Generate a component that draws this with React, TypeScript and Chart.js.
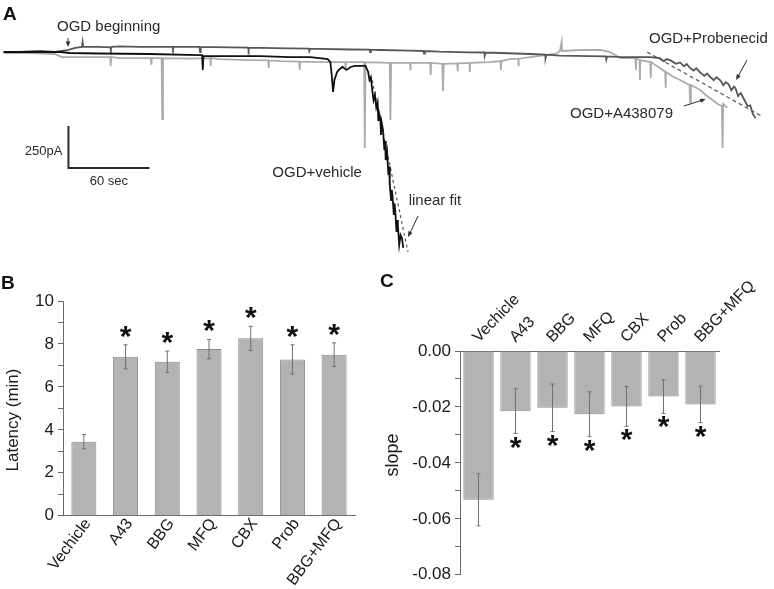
import React, { useEffect, useRef } from 'react';
import { Chart, registerables } from 'chart.js';

Chart.register(...registerables);

const FONT = '"Liberation Sans", Arial, Helvetica, sans-serif';

// ---------- Panel A : whole-cell current traces [time (s), current (pA)] ----------
const vehicleTrace: [number, number][] = [
  [-1, 0], [18, 0], [41, 0], [48, -6], [70, -9], [107, -12], [144, -18], [146, -18], [146.5, -107], [147, -24],
  [167, -24], [189, -24], [211, -30], [226, -30], [233, -36], [239, -42], [241, -60], [242, -137], [243, -238],
  [244, -167], [246, -119], [248, -101], [250, -89], [253, -107], [256, -89], [259, -83], [263, -83], [267, -83],
  [269, -119], [270, -167], [271, -150], [272, -226], [273, -286], [274, -256], [275, -330], [276, -300],
  [276.5, -405], [277, -360], [278, -393], [278.5, -494], [279, -420], [280, -464], [281, -583], [281.5, -530],
  [282, -643], [283, -595], [284, -732], [284.5, -680], [285, -791], [286, -881], [286.5, -820], [287, -851],
  [288, -970], [288.5, -900], [289, -940], [290, -1071], [290.5, -1000], [291, -1029], [292, -1148], [293, -1090],
  [294, -1107], [295, -1166],
];

const a438079Trace: [number, number][] = [
  [-1, -6], [18, -6], [37, -12], [42, -30], [56, -30], [70, -30], [78, -30], [78.3, -83], [78.6, -30], [85, -36],
  [100, -36], [108, -36], [108.3, -70], [108.6, -36], [116, -36], [116.5, -399], [117, -36], [137, -39], [152, -36],
  [152.3, -83], [152.6, -36], [159, -42], [181, -48], [195, -50], [195.3, -95], [195.6, -50], [204, -54], [218, -57],
  [218.3, -107], [218.6, -57], [241, -60], [252, -60], [252.3, -100], [252.6, -60], [266, -60], [266.5, -571],
  [267, -60], [285, -65], [285.5, -405], [286, -65], [300, -65], [300.3, -110], [300.6, -65], [307, -65], [315, -65],
  [315.3, -137], [315.6, -65], [324, -71], [324.4, -232], [325, -71], [335, -68], [335.3, -115], [335.6, -68],
  [344, -65], [344.3, -119], [344.6, -65], [359, -60], [367, -54], [367.3, -107], [367.6, -54], [374, -42],
  [380, -40], [380.3, -85], [380.6, -40], [389, -30], [400, -18], [408, -10], [411, 6], [412.3, 60], [412.6, 6],
  [426, 12], [441, 12], [448, 0], [456, -36], [463, -36], [467, -36], [467.3, -107], [467.6, -36], [470, -48],
  [470.3, -167], [470.6, -48], [478, -60], [478.3, -155], [478.6, -60], [485, -95], [489, -119], [489.3, -214],
  [489.6, -119], [494, -143], [500, -167], [507, -196], [507.5, -298], [508, -196], [515, -226], [519, -256],
  [524, -286], [528, -309], [531, -321], [531.5, -571], [532, -309], [535, -333],
];

const probenecidTrace: [number, number][] = [
  [-1, 0], [11, 0], [26, 6], [37, 0], [47, 12], [52, 24], [57, 30], [57.5, 60], [58, 30], [70, 30], [78, 28],
  [78.4, 16], [79, 30], [85, 33], [100, 30], [115, 30], [124, 30], [124.4, 18], [125, 30], [144, 30], [144.5, 0],
  [145, 30], [167, 27], [180, 26], [180.4, 12], [181, 26], [189, 24], [211, 21], [225, 20], [225.4, 6], [226, 20],
  [233, 18], [256, 15], [270, 14], [270.4, 0], [271, 14], [278, 12], [300, 8], [310, 6], [310.4, -10], [311, 6],
  [322, 2], [344, -2], [355, -3], [355.4, -20], [356, -3], [367, -6], [389, -12], [400, -16], [400.4, -36],
  [401, -16], [411, -22], [433, -24], [445, -26], [445.4, -45], [446, -26], [456, -30], [478, -30], [485, -36],
  [488, -55], [490, -42], [493, -50], [497, -70], [500, -62], [503, -85], [505, -72], [507, -92], [510, -110],
  [512, -96], [515, -122], [518, -142], [520, -128], [522, -146], [525, -168], [527, -150], [530, -170],
  [532, -198], [534, -180], [536, -192], [538, -228], [540, -206], [541, -214], [543, -262], [545, -244],
  [548, -290], [550, -322], [552, -318], [554, -370], [556, -395],
];

const vehicleFit: [number, number][] = [[271.9, -167], [298.5, -1190]];
const probenecidFit: [number, number][] = [[475.6, 0], [561.5, -387]];

const scaleBarOrigin: [number, number] = [47, -690];
const scaleBarTime = 60; // s
const scaleBarCurrent = 250; // pA

// ---------- Panels B and C ----------
const categories = ['Vechicle', 'A43', 'BBG', 'MFQ', 'CBX', 'Prob', 'BBG+MFQ'];
const latency = [3.45, 7.4, 7.17, 7.76, 8.26, 7.28, 7.5];
const latencyErr = [0.33, 0.56, 0.5, 0.45, 0.56, 0.68, 0.55];
const latencySig = [false, true, true, true, true, true, true];
const slope = [-0.0532, -0.0215, -0.0203, -0.0226, -0.0198, -0.0163, -0.0191];
const slopeErr = [0.0093, 0.008, 0.0085, 0.008, 0.0071, 0.006, 0.0065];
const slopeSig = [false, true, true, true, true, true, true];

const latencyTicks = [0, 2, 4, 6, 8, 10];
const slopeTicks = [0, -0.02, -0.04, -0.06, -0.08];

// ---------- annotation layout for panel A (in data units) ----------
const traceLabels: { text: string; at: [number, number] }[] = [
  { text: 'OGD beginning', at: [38.5, 125] },
  { text: 'OGD+vehicle', at: [198, -744] },
  { text: 'linear fit', at: [299, -910] },
  { text: 'OGD+Probenecid', at: [477, 54] },
  { text: 'OGD+A438079', at: [418.5, -393] },
];
const traceArrows: { from: [number, number]; to: [number, number] }[] = [
  { from: [46.7, 83], to: [46.7, 30] },
  { from: [306, -976], to: [298.5, -1101] },
  { from: [549.6, -48], to: [541.5, -167] },
  { from: [503, -321], to: [519, -280] },
];

function drawArrow(ctx: CanvasRenderingContext2D, x1: number, y1: number, x2: number, y2: number) {
  const ang = Math.atan2(y2 - y1, x2 - x1);
  const head = 6;
  ctx.beginPath();
  ctx.moveTo(x1, y1);
  ctx.lineTo(x2 - Math.cos(ang) * head * 0.7, y2 - Math.sin(ang) * head * 0.7);
  ctx.stroke();
  ctx.beginPath();
  ctx.moveTo(x2, y2);
  ctx.lineTo(x2 - head * Math.cos(ang - 0.38), y2 - head * Math.sin(ang - 0.38));
  ctx.lineTo(x2 - head * Math.cos(ang + 0.38), y2 - head * Math.sin(ang + 0.38));
  ctx.closePath();
  ctx.fill();
}

const traceAnnotations = {
  id: 'traceAnnotations',
  afterDatasetsDraw(chart: any) {
    const { ctx } = chart;
    const xs = chart.scales.x;
    const ys = chart.scales.y;
    const px = (t: number) => xs.getPixelForValue(t);
    const py = (v: number) => ys.getPixelForValue(v);
    ctx.save();
    const x0 = px(scaleBarOrigin[0]);
    const y0 = py(scaleBarOrigin[1]);
    const x1 = px(scaleBarOrigin[0] + scaleBarTime);
    const y1 = py(scaleBarOrigin[1] + scaleBarCurrent);
    ctx.strokeStyle = '#2a2a2a';
    ctx.lineWidth = 2;
    ctx.beginPath();
    ctx.moveTo(x0, y1);
    ctx.lineTo(x0, y0);
    ctx.lineTo(x1, y0);
    ctx.stroke();
    ctx.fillStyle = '#2a2a2a';
    ctx.font = `13px ${FONT}`;
    ctx.textAlign = 'right';
    ctx.textBaseline = 'middle';
    ctx.fillText(`${scaleBarCurrent}pA`, x0 - 6, (y0 + y1) / 2 + 4);
    ctx.textAlign = 'center';
    ctx.textBaseline = 'top';
    ctx.fillText(`${scaleBarTime} sec`, (x0 + x1) / 2, y0 + 7);
    ctx.font = `15px ${FONT}`;
    ctx.textAlign = 'left';
    ctx.textBaseline = 'alphabetic';
    for (const lab of traceLabels) ctx.fillText(lab.text, px(lab.at[0]), py(lab.at[1]));
    ctx.strokeStyle = '#2a2a2a';
    ctx.lineWidth = 1;
    for (const a of traceArrows) drawArrow(ctx, px(a.from[0]), py(a.from[1]), px(a.to[0]), py(a.to[1]));
    ctx.restore();
  },
};

function makeErrPlugin(errs: number[], sig: boolean[], side: 'above' | 'below', gap: number) {
  return {
    id: 'errStars',
    afterDatasetsDraw(chart: any) {
      const { ctx } = chart;
      const ys = chart.scales.y;
      const meta = chart.getDatasetMeta(0);
      const vals = chart.data.datasets[0].data as number[];
      ctx.save();
      ctx.strokeStyle = '#707070';
      ctx.lineWidth = 1;
      ctx.font = `bold 30px ${FONT}`;
      ctx.textAlign = 'center';
      ctx.textBaseline = 'alphabetic';
      const m = ctx.measureText('*');
      const starOff = (m.actualBoundingBoxAscent - m.actualBoundingBoxDescent) / 2;
      meta.data.forEach((bar: any, i: number) => {
        const v = vals[i];
        const e = errs[i];
        const yt = ys.getPixelForValue(v + e);
        const yb = ys.getPixelForValue(v - e);
        const x = bar.x;
        ctx.beginPath();
        ctx.moveTo(x, yt);
        ctx.lineTo(x, yb);
        ctx.moveTo(x - 2, yt);
        ctx.lineTo(x + 2, yt);
        ctx.moveTo(x - 2, yb);
        ctx.lineTo(x + 2, yb);
        ctx.stroke();
        if (sig[i]) {
          ctx.fillStyle = '#111';
          const cy = side === 'above' ? yt - gap : yb + gap;
          ctx.fillText('*', x, cy + starOff);
        }
      });
      ctx.restore();
    },
  };
}

// category labels + y title drawn by hand for exact placement
function makeLabelPlugin(o: {
  side: 'bottom' | 'top';
  angleDeg: number;
  dx: number;
  dy: number;
  size: number;
  title: string;
  titleSize: number;
  titleX: number;
  titleY: number;
}) {
  return {
    id: 'catLabels',
    afterDraw(chart: any) {
      const { ctx, chartArea } = chart;
      const meta = chart.getDatasetMeta(0);
      const labels = chart.data.labels as string[];
      ctx.save();
      ctx.fillStyle = '#1a1a1a';
      ctx.font = `${o.size}px ${FONT}`;
      ctx.textBaseline = 'middle';
      const a = (o.angleDeg * Math.PI) / 180;
      meta.data.forEach((bar: any, i: number) => {
        ctx.save();
        if (o.side === 'bottom') {
          ctx.translate(bar.x + o.dx, chartArea.bottom + o.dy);
          ctx.textAlign = 'right';
        } else {
          ctx.translate(bar.x + o.dx, chartArea.top - o.dy);
          ctx.textAlign = 'left';
        }
        ctx.rotate(-a);
        ctx.fillText(labels[i], 0, 0);
        ctx.restore();
      });
      ctx.save();
      ctx.font = `${o.titleSize}px ${FONT}`;
      ctx.textAlign = 'center';
      ctx.textBaseline = 'middle';
      ctx.translate(o.titleX, o.titleY);
      ctx.rotate(-Math.PI / 2);
      ctx.fillText(o.title, 0, 0);
      ctx.restore();
      ctx.restore();
    },
  };
}

export default function App() {
  const aRef = useRef<HTMLCanvasElement>(null);
  const bRef = useRef<HTMLCanvasElement>(null);
  const cRef = useRef<HTMLCanvasElement>(null);

  useEffect(() => {
    const charts: Chart[] = [];
    const toXY = (arr: [number, number][]) => arr.map(([x, y]) => ({ x, y }));

    charts.push(
      new Chart(aRef.current!, {
        type: 'line',
        data: {
          datasets: [
            { data: toXY(vehicleTrace), borderColor: '#111', borderWidth: 1.8 },
            { data: toXY(vehicleFit), borderColor: '#555', borderWidth: 1.2, borderDash: [3, 3] },
            { data: toXY(probenecidFit), borderColor: '#555', borderWidth: 1.2, borderDash: [4, 3] },
            { data: toXY(probenecidTrace), borderColor: '#575757', borderWidth: 1.8 },
            { data: toXY(a438079Trace), borderColor: '#ababab', borderWidth: 1.8 },
          ] as any,
        },
        options: {
          responsive: false,
          animation: false,
          parsing: false as any,
          elements: { point: { radius: 0 }, line: { tension: 0 } },
          layout: { padding: 0 },
          plugins: { legend: { display: false }, tooltip: { enabled: false } },
          scales: {
            x: { type: 'linear', display: false, min: -3.7, max: 569.6 },
            y: { type: 'linear', display: false, min: -1237.6, max: 309.4 },
          },
        },
        plugins: [traceAnnotations],
      })
    );

    charts.push(
      new Chart(bRef.current!, {
        type: 'bar',
        data: {
          labels: categories,
          datasets: [
            {
              data: latency,
              backgroundColor: '#b3b3b3',
              borderColor: '#8a8a8a',
              borderWidth: 1,
              barPercentage: 0.6,
              categoryPercentage: 1,
            },
          ],
        },
        options: {
          responsive: false,
          animation: false,
          layout: { padding: { top: 31, right: 25, left: 0, bottom: 0 } },
          plugins: { legend: { display: false }, tooltip: { enabled: false } },
          scales: {
            x: {
              grid: { display: false },
              border: { display: true, color: '#6a6a6a', width: 1 },
              ticks: { display: false },
              afterFit: (s: any) => {
                s.height = 73.3;
              },
            },
            y: {
              min: 0,
              max: 10,
              grid: { display: true, drawOnChartArea: false, tickLength: 5, color: '#6a6a6a' },
              border: { display: true, color: '#6a6a6a', width: 1 },
              ticks: {
                stepSize: 1,
                autoSkip: false,
                color: '#1a1a1a',
                font: { family: FONT, size: 17 },
                padding: 4,
                callback: (v: any) => (latencyTicks.includes(Number(v)) ? String(v) : ''),
              },
              afterFit: (s: any) => {
                s.width = 63;
              },
            },
          },
        },
        plugins: [
          makeErrPlugin(latencyErr, latencySig, 'above', 13),
          makeLabelPlugin({
            side: 'bottom',
            angleDeg: 53,
            dx: 4,
            dy: 5,
            size: 16,
            title: 'Latency (min)',
            titleSize: 17,
            titleX: 13.5,
            titleY: 150,
          }),
        ],
      })
    );

    charts.push(
      new Chart(cRef.current!, {
        type: 'bar',
        data: {
          labels: categories,
          datasets: [
            {
              data: slope,
              backgroundColor: '#b3b3b3',
              borderColor: '#8a8a8a',
              borderWidth: 1,
              barPercentage: 0.82,
              categoryPercentage: 1,
            },
          ],
        },
        options: {
          responsive: false,
          animation: false,
          layout: { padding: { top: 0, right: 55, left: 0, bottom: 9 } },
          plugins: { legend: { display: false }, tooltip: { enabled: false } },
          scales: {
            x: {
              position: 'top',
              grid: { display: false },
              border: { display: true, color: '#6a6a6a', width: 1 },
              ticks: { display: false },
              afterFit: (s: any) => {
                s.height = 81;
              },
            },
            y: {
              min: -0.08,
              max: 0,
              grid: { display: true, drawOnChartArea: false, tickLength: 5, color: '#6a6a6a' },
              border: { display: true, color: '#6a6a6a', width: 1 },
              ticks: {
                stepSize: 0.01,
                autoSkip: false,
                color: '#1a1a1a',
                font: { family: FONT, size: 17 },
                padding: 4,
                callback: (v: any) => {
                  const n = Number(v);
                  return slopeTicks.some((t) => Math.abs(t - n) < 1e-6) ? n.toFixed(2) : '';
                },
              },
              afterFit: (s: any) => {
                s.width = 80;
              },
            },
          },
        },
        plugins: [
          makeErrPlugin(slopeErr, slopeSig, 'below', 9),
          makeLabelPlugin({
            side: 'top',
            angleDeg: 46,
            dx: -3,
            dy: 11,
            size: 16,
            title: 'slope',
            titleSize: 18,
            titleX: 13.5,
            titleY: 185,
          }),
        ],
      })
    );

    return () => charts.forEach((c) => c.destroy());
  }, []);

  const panelLabel = (text: string, left: number, top: number) => (
    <div
      style={{
        position: 'absolute',
        left,
        top,
        fontFamily: FONT,
        fontWeight: 'bold',
        fontSize: 19,
        lineHeight: 'normal',
        color: '#111',
      }}
    >
      {text}
    </div>
  );

  return (
    <div
      style={{
        position: 'absolute',
        left: 0,
        top: 0,
        width: 774,
        height: 589,
        background: '#fff',
        overflow: 'hidden',
      }}
    >
      <canvas ref={aRef} width={774} height={260} style={{ position: 'absolute', left: 0, top: 0 }} />
      <canvas ref={bRef} width={380} height={319} style={{ position: 'absolute', left: 0, top: 270 }} />
      <canvas ref={cRef} width={394} height={319} style={{ position: 'absolute', left: 380, top: 270 }} />
      {panelLabel('A', 3, 3)}
      {panelLabel('B', 1, 272)}
      {panelLabel('C', 380, 270)}
    </div>
  );
}
